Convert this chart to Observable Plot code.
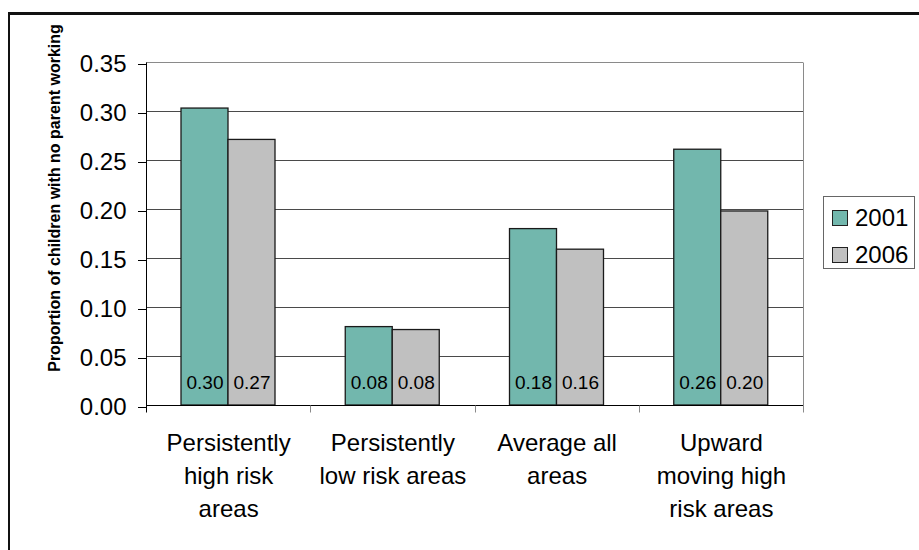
<!DOCTYPE html>
<html>
<head>
<meta charset="utf-8">
<script src="https://cdn.jsdelivr.net/npm/d3@7"></script>
<script src="https://cdn.jsdelivr.net/npm/@observablehq/plot@0.6"></script>
<style>
  html, body { margin: 0; padding: 0; background: #fff; }
  #wrap { position: relative; width: 919px; height: 550px; overflow: hidden; font-family: "Liberation Sans", Arial, sans-serif; }
  #chart { position: absolute; left: 0; top: 0; }
  #border { position: absolute; left: 8px; top: 12px; right: -20px; bottom: -20px; border-top: 3px solid #111; border-left: 2px solid #111; pointer-events: none; }
  #ytitle { position: absolute; left: 55px; top: 198px; transform: translate(-50%, -50%) rotate(-90deg); white-space: nowrap; font-weight: bold; font-size: 16px; line-height: 1; color: #000; }
  #legend { position: absolute; left: 823px; top: 196px; width: 92px; height: 73px; box-sizing: border-box; border: 1px solid #666; background: #fff; }
  .item { position: absolute; left: 8px; display: flex; align-items: center; font-size: 24px; line-height: 1; color: #000; }
  .sw { width: 14px; height: 14px; border: 1px solid #222; margin-right: 7px; }
</style>
</head>
<body>
<div id="wrap">
  <div id="chart"></div>
  <div id="ytitle"></div>
  <div id="legend"></div>
  <div id="border"></div>
</div>
<script>
// ---- data ----
const categories = ["Persistently\nhigh risk\nareas", "Persistently\nlow risk areas", "Average all\nareas", "Upward\nmoving high\nrisk areas"];
const years = ["2001", "2006"];
const values2001 = [0.303, 0.080, 0.180, 0.261];
const values2006 = [0.271, 0.077, 0.159, 0.198];
const yTicks = [0, 0.05, 0.10, 0.15, 0.20, 0.25, 0.30, 0.35];
const yTitle = "Proportion of children with no parent working";
const colors = {"2001": "#72B7AD", "2006": "#C0C0C0"};

// ---- layout ----
const W = 919, H = 550;
const mL = 146, mR = 116, mT = 62, mB = 145;
const bw = (W - mL - mR) / categories.length;   // group band width
const outerGap = 35, barW = 47;                  // pixel layout within a group

const rows = years.flatMap(yr => categories.map((c, i) => ({
  cat: c, year: yr, value: (yr === "2001" ? values2001 : values2006)[i]
})));
const r2001 = rows.filter(d => d.year === "2001");
const r2006 = rows.filter(d => d.year === "2006");
const fmt = d3.format(".2f");

const frameMark = (index, {x, y}) => {
  const g = d3.create("svg:g").attr("fill", "none");
  const b = x.bandwidth();
  const y0 = Math.round(y(0)) + 0.5, yTop = Math.round(y(0.35)) + 0.5;
  const edges = categories.map(c => x(c)).concat([x(categories[categories.length - 1]) + b]);
  edges.forEach((e, i) => {
    const xx = Math.round(e) + 0.5;
    const last = i === edges.length - 1;
    g.append("line").attr("x1", xx).attr("x2", xx)
      .attr("y1", (i === 0 || last) ? yTop : y0).attr("y2", y0 + 7)
      .attr("stroke", (i === 0) ? "#000" : "#8a8a8a");
  });
  return g.node();
};

const svg = Plot.plot({
  width: W, height: H,
  marginLeft: mL, marginRight: mR, marginTop: mT, marginBottom: mB,
  style: {fontFamily: "'Liberation Sans', Arial, sans-serif", background: "transparent", overflow: "visible"},
  x: {type: "band", domain: categories, padding: 0, round: false, axis: null},
  y: {domain: [0, 0.35], axis: null},
  marks: [
    Plot.ruleY(yTicks.slice(1, -1), {stroke: "#4a4a4a", strokeWidth: 1}),
    Plot.ruleY([0.35], {stroke: "#8a8a8a", strokeWidth: 1}),
    Plot.barY(r2001, {x: "cat", y: "value", fill: colors["2001"], stroke: "#1a1a1a", strokeWidth: 1.3,
      insetLeft: outerGap, insetRight: bw - outerGap - barW}),
    Plot.barY(r2006, {x: "cat", y: "value", fill: colors["2006"], stroke: "#1a1a1a", strokeWidth: 1.3,
      insetLeft: outerGap + barW, insetRight: bw - outerGap - 2 * barW}),
    Plot.text(r2001, {x: "cat", text: d => fmt(d.value), frameAnchor: "bottom", dy: -17,
      dx: outerGap + barW / 2 - bw / 2, fontSize: 19, fill: "#000"}),
    Plot.text(r2006, {x: "cat", text: d => fmt(d.value), frameAnchor: "bottom", dy: -17,
      dx: outerGap + 1.5 * barW - bw / 2, fontSize: 19, fill: "#000"}),
    Plot.ruleY([0], {stroke: "#000", strokeWidth: 1}),
    Plot.axisY(yTicks, {tickSize: 8, tickPadding: 12, tickFormat: fmt, fontSize: 24, label: null, stroke: "#000", fill: "#000", dy: 2}),
    Plot.text(categories, {x: d => d, text: d => d, frameAnchor: "bottom", lineAnchor: "top", dy: 22,
      fontSize: 24, lineHeight: 1.375, fill: "#000"}),
    frameMark
  ]
});
document.getElementById("chart").appendChild(svg);

document.getElementById("ytitle").textContent = yTitle;
const leg = document.getElementById("legend");
years.forEach((yr, i) => {
  const it = document.createElement("div");
  it.className = "item";
  it.style.top = (i === 0 ? 9 : 46) + "px";
  const sw = document.createElement("div");
  sw.className = "sw";
  sw.style.background = colors[yr];
  const t = document.createElement("span");
  t.textContent = yr;
  it.appendChild(sw); it.appendChild(t);
  leg.appendChild(it);
});
</script>
</body>
</html>
